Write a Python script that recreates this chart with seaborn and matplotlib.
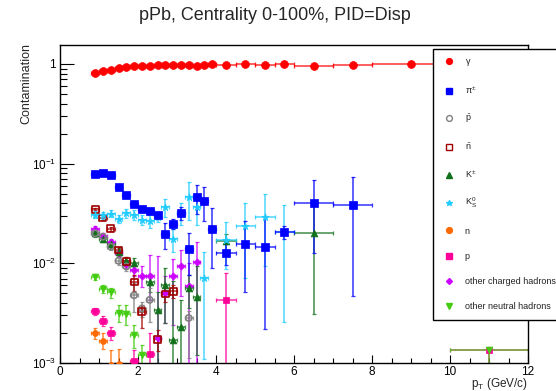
import numpy as np
import pandas as pd
import matplotlib
matplotlib.use("Agg")
import matplotlib.pyplot as plt
import seaborn as sns
from matplotlib.lines import Line2D
from matplotlib.ticker import FixedLocator, FixedFormatter, MultipleLocator, NullFormatter

# ---------------- data ----------------
bin_edges = [0.8, 1.0, 1.2, 1.4, 1.6, 1.8, 2.0, 2.2, 2.4, 2.6, 2.8, 3.0, 3.2, 3.4,
             3.6, 3.8, 4.0, 4.5, 5.0, 5.5, 6.0, 7.0, 8.0, 10.0, 12.0]

gamma_x = [0.9, 1.1, 1.3, 1.5, 1.7, 1.9, 2.1, 2.3, 2.5, 2.7, 2.9, 3.1, 3.3, 3.5, 3.7, 3.9,
           4.25, 4.75, 5.25, 5.75, 6.5, 7.5, 9.0, 11.0]
gamma_y = [0.81, 0.85, 0.88, 0.92, 0.93, 0.95, 0.96, 0.96, 0.98, 0.98, 0.98, 0.98, 0.98, 0.96,
           0.98, 1.0, 0.97, 1.0, 0.98, 1.0, 0.96, 0.98, 1.01, 1.0]
gamma_lo = [0.01] * 24
gamma_hi = [0.01] * 24

pion_x = [0.9, 1.1, 1.3, 1.5, 1.7, 1.9, 2.1, 2.3, 2.5, 2.7, 2.9, 3.1, 3.3, 3.5, 3.7, 3.9,
          4.25, 4.75, 5.25, 5.75, 6.5, 7.5]
pion_y = [0.0788, 0.080, 0.0776, 0.0588, 0.0489, 0.0394, 0.0349, 0.0338, 0.0304, 0.0197,
          0.0249, 0.0323, 0.0140, 0.046, 0.0426, 0.0223, 0.0126, 0.0157, 0.0147, 0.0206,
          0.0406, 0.0383]
pion_lo = [0.002, 0.002, 0.002, 0.002, 0.002, 0.002, 0.002, 0.002, 0.0025, 0.0057, 0.003,
           0.0048, 0.0063, 0.0147, 0.016, 0.0133, 0.003, 0.0106, 0.0125, 0.003, 0.028, 0.0336]
pion_hi = [0.002, 0.002, 0.002, 0.002, 0.002, 0.002, 0.002, 0.002, 0.0025, 0.0057, 0.003,
           0.0048, 0.0063, 0.0147, 0.016, 0.0136, 0.003, 0.0111, 0.0145, 0.003, 0.028, 0.036]

pbar_x = [0.9, 1.1, 1.3, 1.5, 1.7, 1.9, 2.1, 2.3, 3.3]
pbar_y = [0.020, 0.0185, 0.0147, 0.0106, 0.0093, 0.00478, 0.00352, 0.0043, 0.00283]
pbar_lo = [0.001, 0.001, 0.001, 0.001, 0.001, 0.0015, 0.0006, 0.0017, 0.0017]
pbar_hi = [0.001, 0.001, 0.001, 0.001, 0.001, 0.0015, 0.0006, 0.0014, 0.0005]

nbar_x = [0.9, 1.1, 1.3, 1.5, 1.7, 1.9, 2.1, 2.5, 2.7, 2.9]
nbar_y = [0.0349, 0.0285, 0.0223, 0.0136, 0.0105, 0.0065, 0.00326, 0.00173, 0.00493, 0.00525]
nbar_lo = [0.001, 0.001, 0.001, 0.001, 0.001, 0.0012, 0.0010, 0.0004, 0.0008, 0.0008]
nbar_hi = [0.001, 0.001, 0.001, 0.001, 0.001, 0.0012, 0.0006, 0.0004, 0.0008, 0.0008]

kch_x = [0.9, 1.1, 1.3, 1.5, 1.7, 1.9, 2.3, 2.5, 2.7, 2.9, 3.1, 3.3, 3.5, 4.25, 6.5]
kch_y = [0.020, 0.0177, 0.0155, 0.013, 0.0105, 0.0100, 0.0065, 0.0034, 0.0060, 0.0017,
         0.0023, 0.0056, 0.0046, 0.0167, 0.020]
kch_lo = [0.0015, 0.0015, 0.0015, 0.0012, 0.001, 0.0012, 0.0013, 0.0034, 0.0035, 0.0017,
          0.0023, 0.002, 0.0034, 0.003, 0.0169]
kch_hi = [0.0015, 0.0015, 0.0015, 0.0012, 0.001, 0.0012, 0.0013, 0.00175, 0.0029, 0.005,
          0.002, 0.002, 0.0047, 0.003, 0.0187]

k0s_x = [0.9, 1.1, 1.3, 1.5, 1.7, 1.9, 2.1, 2.3, 2.5, 2.7, 2.9, 3.1, 3.3, 3.5, 3.7,
         4.25, 4.75, 5.25, 5.75]
k0s_y = [0.0308, 0.0305, 0.0314, 0.0277, 0.0318, 0.0305, 0.0272, 0.0264, 0.0294, 0.0365,
         0.0177, 0.0323, 0.046, 0.037, 0.0071, 0.0172, 0.0237, 0.0294, 0.0206]
k0s_lo = [0.0025, 0.0025, 0.0025, 0.0025, 0.003, 0.0036, 0.003, 0.0038, 0.0035, 0.0074,
          0.0046, 0.008, 0.019, 0.013, 0.006, 0.0085, 0.0165, 0.020, 0.018]
k0s_hi = k0s_lo

n_x = [0.9, 1.1, 1.3, 1.5]
n_y = [0.0020, 0.00168, 0.00095, 0.00098]
n_lo = [0.00025, 0.0003, 0.0004, 0.0004]
n_hi = [0.00025, 0.0003, 0.0004, 0.0004]

p_x = [0.9, 1.1, 1.3, 1.9, 2.3, 4.25, 11.0]
p_y = [0.0033, 0.00266, 0.0020, 0.00105, 0.00122, 0.0043, 0.00135]
p_lo = [0.0003, 0.0003, 0.0003, 0.0003, 0.0004, 0.0043, 0.00135]
p_hi = [0.0003, 0.0003, 0.0003, 0.0003, 0.0008, 0.0037, 0.0001]

och_x = [0.9, 1.1, 1.3, 1.5, 1.7, 1.9, 2.1, 2.3, 2.5, 2.7, 2.9, 3.1, 3.3, 3.5]
och_y = [0.0223, 0.0189, 0.0164, 0.0126, 0.0099, 0.0085, 0.0074, 0.0074, 0.0018, 0.0050,
         0.0074, 0.0093, 0.0059, 0.0102]
och_lo = [0.0012, 0.0012, 0.0012, 0.001, 0.001, 0.001, 0.0016, 0.0031, 0.0018, 0.0025,
          0.005, 0.0046, 0.0059, 0.0102]
och_hi = [0.0012, 0.0012, 0.0012, 0.001, 0.001, 0.001, 0.0019, 0.0048, 0.010, 0.0025,
          0.0036, 0.0042, 0.0041, 0.0063]

oneu_x = [0.9, 1.1, 1.3, 1.5, 1.7, 1.9, 2.1, 11.0]
oneu_y = [0.0073, 0.0055, 0.0051, 0.0032, 0.0031, 0.0019, 0.0012, 0.00135]
oneu_lo = [0.0005, 0.0005, 0.0006, 0.0006, 0.0007, 0.0005, 0.0003, 0.00135]
oneu_hi = [0.0005, 0.0005, 0.0006, 0.0006, 0.0007, 0.0005, 0.0003, 0.00005]

labels = [r"$\gamma$", r"$\pi^{\pm}$", r"$\bar{p}$", r"$\bar{n}$", r"$K^{\pm}$", r"$K^{0}_{S}$",
          "n", "p", "other charged hadrons", "other neutral hadrons"]

# (label, x, y, lo, hi, color, marker, size, open)
series = [
    (labels[6], n_x, n_y, n_lo, n_hi, "#ff6a00", "o", 18, False),
    (labels[7], p_x, p_y, p_lo, p_hi, "#ff0099", "s", 18, False),
    (labels[9], oneu_x, oneu_y, oneu_lo, oneu_hi, "#44cc11", "v", 24, False),
    (labels[8], och_x, och_y, och_lo, och_hi, "#cc00ff", "D", 13, False),
    (labels[4], kch_x, kch_y, kch_lo, kch_hi, "#11701a", "^", 24, False),
    (labels[2], pbar_x, pbar_y, pbar_lo, pbar_hi, "#808080", "o", 20, True),
    (labels[3], nbar_x, nbar_y, nbar_lo, nbar_hi, "#a00000", "s", 24, True),
    (labels[5], k0s_x, k0s_y, k0s_lo, k0s_hi, "#22ccff", "*", 32, False),
    (labels[1], pion_x, pion_y, pion_lo, pion_hi, "#0000ff", "s", 34, False),
    (labels[0], gamma_x, gamma_y, gamma_lo, gamma_hi, "#ff0000", "o", 32, False),
]


def half_width(x):
    for a, b in zip(bin_edges[:-1], bin_edges[1:]):
        if a < x < b:
            return (b - a) / 2.0
    return 0.1


# ---------------- style ----------------
sns.set_style("ticks")
plt.rcParams["font.family"] = ["Liberation Sans", "DejaVu Sans"]
plt.rcParams["mathtext.fontset"] = "custom"
plt.rcParams["mathtext.rm"] = "Liberation Sans"
plt.rcParams["mathtext.it"] = "Liberation Sans"
plt.rcParams["mathtext.bf"] = "Liberation Sans:bold"
plt.rcParams["mathtext.sf"] = "Liberation Sans"

W, H = 556, 391
fig = plt.figure(figsize=(W / 100, H / 100), dpi=100)
ax = fig.add_axes([60 / W, 28 / H, 468 / W, 318 / H])

for i, (lab, xs, ys, lo, hi, col, mk, sz, op) in enumerate(series):
    xe = [half_width(v) for v in xs]
    ax.errorbar(xs, ys, yerr=[lo, hi], xerr=xe, fmt="none", ecolor=col, elinewidth=1.1,
                capsize=1.6, capthick=0.9, alpha=0.8, zorder=2 + i * 0.1)
    df = pd.DataFrame({"pt": xs, "val": ys})
    sns.scatterplot(data=df, x="pt", y="val", marker=mk, s=sz, color=col,
                    edgecolor=col, linewidth=1.0 if op else 0.5, ax=ax,
                    zorder=5 + i * 0.1, legend=False)
    if op:
        ax.collections[-1].set_facecolor("none")
        ax.collections[-1].set_edgecolor(col)
        ax.collections[-1].set_linewidth(1.2)

ax.set_yscale("log")
ax.set_xlim(0, 12)
ax.set_ylim(1e-3, 10 ** (19 / 99.7))

ax.yaxis.set_major_locator(FixedLocator([1e-3, 1e-2, 1e-1, 1.0]))
ax.yaxis.set_major_formatter(FixedFormatter([r"$10^{-3}$", r"$10^{-2}$", r"$10^{-1}$", "1"]))
minors = [m * 10.0 ** e for e in (-3, -2, -1) for m in range(2, 10)]
ax.yaxis.set_minor_locator(FixedLocator(minors))
ax.yaxis.set_minor_formatter(NullFormatter())
ax.xaxis.set_major_locator(MultipleLocator(2))
ax.xaxis.set_minor_locator(MultipleLocator(0.5))

ax.tick_params(axis="both", which="both", direction="in", top=False, right=False,
               labelsize=8.5, colors="black", width=0.8)
ax.tick_params(axis="y", which="major", length=10, pad=3)
ax.tick_params(axis="y", which="minor", length=5)
ax.tick_params(axis="x", which="major", length=6, pad=2)
ax.tick_params(axis="x", which="minor", length=3.5)
for sp in ax.spines.values():
    sp.set_visible(True)
    sp.set_color("black")
    sp.set_linewidth(1.0)

ax.set_xlabel(r"$p_{T}$ (GeV/c)", fontsize=8.5, loc="right")
ax.xaxis.set_label_coords(1.0, -0.040)
ax.set_ylabel("Contamination", fontsize=9, loc="top")
ax.yaxis.set_label_coords(-0.058, 1.006)

fig.text(275 / W, 1 - 7 / H, "pPb, Centrality 0-100%, PID=Disp", fontsize=13,
         ha="center", va="top")

# legend
leg_order = [
    (labels[0], "#ff0000", "o", False),
    (labels[1], "#0000ff", "s", False),
    (labels[2], "#808080", "o", True),
    (labels[3], "#a00000", "s", True),
    (labels[4], "#11701a", "^", False),
    (labels[5], "#22ccff", "*", False),
    (labels[6], "#ff6a00", "o", False),
    (labels[7], "#ff0099", "s", False),
    (labels[8], "#cc00ff", "D", False),
    (labels[9], "#44cc11", "v", False),
]
handles = []
for lab, col, mk, op in leg_order:
    handles.append(Line2D([], [], linestyle="none", marker=mk, markersize=4.2 if mk != "D" else 3,
                          markerfacecolor="none" if op else col, markeredgecolor=col,
                          markeredgewidth=1.0, label=lab))
leg = fig.legend(handles=handles, loc="upper left", bbox_to_anchor=(433 / W, 1 - 49 / H),
                 bbox_transform=fig.transFigure, frameon=True, fancybox=False,
                 edgecolor="black", framealpha=1.0, fontsize=6.5, borderpad=0.9,
                 handlelength=1.8, handletextpad=0.8, labelspacing=1.8, borderaxespad=0)
leg.get_frame().set_linewidth(1.0)
leg.set_zorder(20)
for t in leg.get_texts():
    t.set_color("#222222")

fig.savefig("out.png", dpi=100)
